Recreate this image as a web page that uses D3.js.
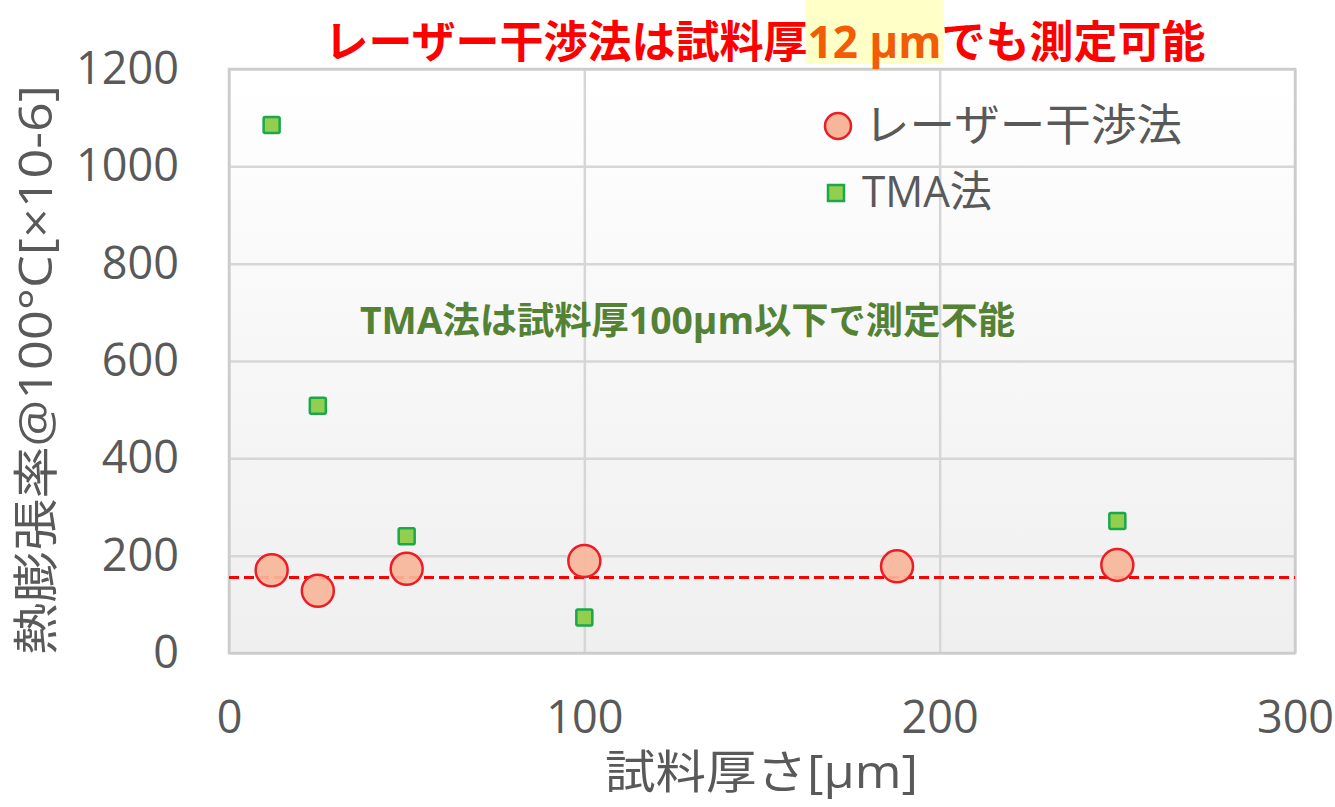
<!DOCTYPE html>
<html>
<head>
<meta charset="utf-8">
<script src="https://cdn.jsdelivr.net/npm/d3@7"></script>
<style>
  body { margin: 0; background: #fff; }
  text { font-family: "Open Sans", "Noto Sans CJK JP", sans-serif; }
</style>
</head>
<body>
<div id="vis"></div>
<script>
// Data
const LASER_X = [12, 25, 50, 100, 188, 250];
const LASER_Y = [170, 128, 173, 189, 178, 181];
const TMA_X = [12, 25, 50, 100, 250];
const TMA_Y = [1085, 508, 240, 73, 271];
const REF_LINE = 155;
const X_TICKS = [0, 100, 200, 300];
const Y_TICKS = [0, 200, 400, 600, 800, 1000, 1200];

const FRAME_WIDTH = 1335;
const FRAME_HEIGHT = 807;
const MARGINS = {left: 229, right: 40, top: 69, bottom: 154};
const VIS_WIDTH = FRAME_WIDTH - MARGINS.left - MARGINS.right;
const VIS_HEIGHT = FRAME_HEIGHT - MARGINS.top - MARGINS.bottom;

const FRAME = d3.select("#vis")
                .append("svg")
                .attr("width", FRAME_WIDTH)
                .attr("height", FRAME_HEIGHT);

// plot background gradient
const grad = FRAME.append("defs").append("linearGradient")
                  .attr("id", "bg").attr("x1", 0).attr("y1", 0).attr("x2", 0).attr("y2", 1);
grad.append("stop").attr("offset", "0%").attr("stop-color", "#ffffff");
grad.append("stop").attr("offset", "100%").attr("stop-color", "#efefef");

const X_SCALE = d3.scaleLinear().domain([0, 300]).range([0, VIS_WIDTH]);
const Y_SCALE = d3.scaleLinear().domain([0, 1200]).range([VIS_HEIGHT, 0]);

const PLOT = FRAME.append("g")
                  .attr("transform", "translate(" + MARGINS.left + "," + MARGINS.top + ")");

PLOT.append("rect")
    .attr("width", VIS_WIDTH).attr("height", VIS_HEIGHT)
    .attr("fill", "url(#bg)");

// grid lines
PLOT.append("g")
    .call(d3.axisLeft(Y_SCALE).tickValues(Y_TICKS).tickSize(-VIS_WIDTH).tickFormat(""))
    .call(g => g.select(".domain").remove())
    .selectAll("line").attr("stroke", "#d6d6d6").attr("stroke-width", 2.5);

PLOT.append("g")
    .attr("transform", "translate(0," + VIS_HEIGHT + ")")
    .call(d3.axisBottom(X_SCALE).tickValues(X_TICKS).tickSize(-VIS_HEIGHT).tickFormat(""))
    .call(g => g.select(".domain").remove())
    .selectAll("line").attr("stroke", "#d6d6d6").attr("stroke-width", 2.5);

PLOT.append("rect")
    .attr("width", VIS_WIDTH).attr("height", VIS_HEIGHT)
    .attr("fill", "none").attr("stroke", "#cccccc").attr("stroke-width", 2.5);

// tick labels
FRAME.append("g")
     .attr("transform", "translate(" + (MARGINS.left - 50) + "," + MARGINS.top + ")")
     .call(d3.axisLeft(Y_SCALE).tickValues(Y_TICKS).tickSize(0).tickPadding(0).tickFormat(d3.format("d")))
     .call(g => g.select(".domain").remove())
     .selectAll("text")
     .attr("font-size", "45px").attr("fill", "#595959")
     .style("font-family", "'Open Sans', sans-serif");

FRAME.append("g")
     .attr("transform", "translate(" + MARGINS.left + "," + (MARGINS.top + VIS_HEIGHT + 48) + ")")
     .call(d3.axisBottom(X_SCALE).tickValues(X_TICKS).tickSize(0).tickPadding(0).tickFormat(d3.format("d")))
     .call(g => g.select(".domain").remove())
     .selectAll("text")
     .attr("font-size", "45px").attr("fill", "#595959")
     .style("font-family", "'Open Sans', sans-serif");

// axis titles
FRAME.append("text")
     .attr("x", 605).attr("y", 788)
     .attr("font-size", "46px").attr("fill", "#595959")
     .attr("textLength", 313).attr("lengthAdjust", "spacingAndGlyphs")
     .text("試料厚さ[μm]");

FRAME.append("text")
     .attr("transform", "translate(52,655) rotate(-90)")
     .attr("font-size", "46px").attr("fill", "#595959")
     .attr("textLength", 570).attr("lengthAdjust", "spacingAndGlyphs")
     .text("熱膨張率@100°C[×10-6]");

// reference dashed line
PLOT.append("line")
    .attr("x1", 0).attr("x2", VIS_WIDTH)
    .attr("y1", Y_SCALE(REF_LINE)).attr("y2", Y_SCALE(REF_LINE))
    .attr("stroke", "#ff0000").attr("stroke-width", 3)
    .attr("stroke-dasharray", "10,5");

// laser points
PLOT.selectAll(".laser")
    .data(LASER_X)
    .enter().append("circle")
    .attr("cx", (d) => X_SCALE(d))
    .attr("cy", (d, i) => Y_SCALE(LASER_Y[i]))
    .attr("r", 16)
    .attr("fill", "#f6b69a").attr("fill-opacity", 0.92)
    .attr("stroke", "#ee1c25").attr("stroke-width", 2.5);

// TMA points
PLOT.selectAll(".tma")
    .data(TMA_X)
    .enter().append("rect")
    .attr("x", (d) => X_SCALE(d) - 8)
    .attr("y", (d, i) => Y_SCALE(TMA_Y[i]) - 8)
    .attr("width", 16).attr("height", 16)
    .attr("rx", 1.5)
    .attr("fill", "#92cf4f")
    .attr("stroke", "#1aa84a").attr("stroke-width", 2.5);

// legend
const LEGEND = FRAME.append("g");
LEGEND.append("circle")
      .attr("cx", 838).attr("cy", 126).attr("r", 13)
      .attr("fill", "#f6b69a").attr("stroke", "#ee1c25").attr("stroke-width", 2.5);
LEGEND.append("text")
      .attr("x", 864).attr("y", 141)
      .attr("font-size", "44px").attr("fill", "#595959")
      .attr("textLength", 318).attr("lengthAdjust", "spacingAndGlyphs")
      .text("レーザー干渉法");
LEGEND.append("rect")
      .attr("x", 828).attr("y", 185).attr("width", 16).attr("height", 16)
      .attr("fill", "#92cf4f").attr("stroke", "#1aa84a").attr("stroke-width", 2.5);
LEGEND.append("text")
      .attr("x", 862).attr("y", 207)
      .attr("font-size", "43px").attr("fill", "#595959")
      .attr("textLength", 130).attr("lengthAdjust", "spacingAndGlyphs")
      .text("TMA法");

// green annotation
FRAME.append("text")
     .attr("x", 360).attr("y", 334)
     .attr("font-size", "37px").attr("font-weight", "bold").attr("fill", "#548235")
     .attr("textLength", 655).attr("lengthAdjust", "spacingAndGlyphs")
     .text("TMA法は試料厚100μm以下で測定不能");

// title with highlighted thickness
const HIGHLIGHT = FRAME.append("rect").attr("fill", "#ffffc8");
const TITLE = FRAME.append("text")
                   .attr("x", 765).attr("y", 58)
                   .attr("text-anchor", "middle")
                   .attr("font-size", "44px").attr("font-weight", "bold").attr("fill", "#ff0000");
TITLE.append("tspan").text("レーザー干渉法は試料厚");
const HL = TITLE.append("tspan").attr("fill", "#f25c05").text("12 μm");
TITLE.append("tspan").text("でも測定可能");

const bb = HL.node().getBBox();
HIGHLIGHT.attr("x", bb.x - 2).attr("y", 0)
         .attr("width", bb.width + 4).attr("height", 64);
</script>
</body>
</html>
